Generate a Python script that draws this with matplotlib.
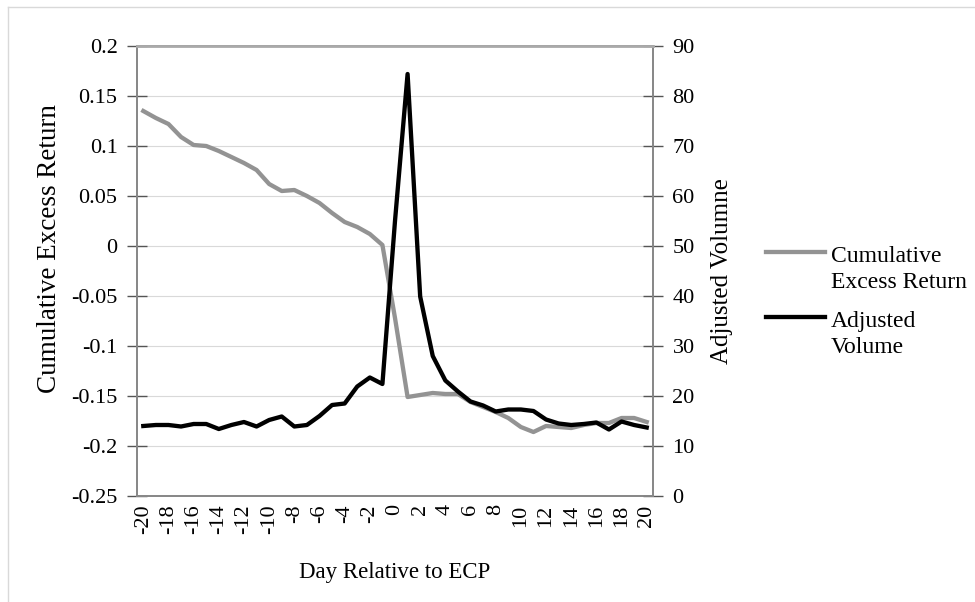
import matplotlib.pyplot as plt
from matplotlib.lines import Line2D

plt.rcParams['font.family'] = ['Liberation Serif', 'DejaVu Serif']

days = list(range(-20, 21))

# cumulative excess return (left axis)
cum_ret = [0.135, 0.128, 0.122, 0.109, 0.101, 0.100, 0.095, 0.089, 0.083, 0.076,
           0.062, 0.055, 0.056, 0.050, 0.043, 0.033, 0.024, 0.019, 0.012, 0.001,
           -0.072, -0.151, -0.149, -0.147, -0.148, -0.148, -0.156, -0.161, -0.166, -0.172,
           -0.181, -0.186, -0.180, -0.181, -0.182, -0.179, -0.177, -0.177, -0.172, -0.172,
           -0.176]

# adjusted volume (right axis)
adj_vol = [14.0, 14.2, 14.2, 13.9, 14.4, 14.4, 13.4, 14.2, 14.8, 13.9,
           15.2, 15.9, 13.9, 14.2, 16.0, 18.2, 18.5, 21.9, 23.7, 22.4,
           55.0, 84.4, 39.9, 28.0, 23.1, 20.9, 18.9, 18.1, 16.9, 17.3,
           17.3, 17.0, 15.3, 14.5, 14.2, 14.4, 14.7, 13.3, 14.9, 14.2,
           13.7]

left_ticks = [0.2, 0.15, 0.1, 0.05, 0, -0.05, -0.1, -0.15, -0.2, -0.25]
right_ticks = [0, 10, 20, 30, 40, 50, 60, 70, 80, 90]
x_ticks = list(range(-20, 21, 2))

W, H = 975, 602
fig = plt.figure(figsize=(W / 100, H / 100), dpi=100)
ax = fig.add_axes([137 / W, 1 - 496 / H, 516 / W, 450 / H])
ax2 = ax.twinx()

grey = '#939393'
ax.plot(days, cum_ret, color=grey, lw=3.1, zorder=3)
ax2.plot(days, adj_vol, color='black', lw=3.1, zorder=3)

ax.set_xlim(-20.5, 20.5)
ax.set_ylim(-0.25, 0.2)
ax2.set_ylim(0, 90)

ax.set_yticks(left_ticks)
ax.set_yticklabels([('%g' % v) for v in left_ticks])
ax2.set_yticks(right_ticks)
ax.set_xticks(x_ticks)
ax.set_xticklabels([str(d) for d in x_ticks], rotation=90)

ax.grid(axis='y', color='#d9d9d9', lw=0.8)
ax.set_axisbelow(True)

for a in (ax, ax2):
    for s in a.spines.values():
        s.set_color('#888888')
        s.set_linewidth(1.3)
ax2.spines['top'].set_color('#aaaaaa')
ax2.spines['top'].set_linewidth(2)

ax.tick_params(axis='y', direction='inout', length=14, width=1, color='#555555',
               labelsize=16, pad=7)
ax2.tick_params(axis='y', direction='inout', length=14, width=1, color='#555555',
                labelsize=16, pad=7)
ax.tick_params(axis='x', length=0, labelsize=16, pad=6)

ax.set_ylabel('Cumulative Excess Return', fontsize=19.5)
ax.yaxis.set_label_coords(-0.145, 0.55)
ax2.set_ylabel('Adjusted Volumne', fontsize=18)
ax2.yaxis.set_label_coords(1.1125, 0.5)
ax.set_xlabel('Day Relative to ECP', fontsize=16.5, labelpad=20)

# legend drawn by hand so the handle sits beside the first text line
leg_items = [(grey, 252, ['Cumulative', 'Excess Return']),
             ('black', 317, ['Adjusted', 'Volume'])]
for col, yy, lines in leg_items:
    fig.add_artist(Line2D([766 / W, 825 / W], [1 - yy / H, 1 - yy / H],
                          transform=fig.transFigure, color=col, lw=3.1))
    for k, txt in enumerate(lines):
        fig.text(831 / W, 1 - (yy + 10.5 + 25.6 * k) / H, txt, fontsize=17,
                 ha='left', va='baseline')

# thin outer frame (top and left visible)
fig.add_artist(Line2D([8 / W, 1.0], [1 - 7 / H, 1 - 7 / H],
                      transform=fig.transFigure, color='#d9d9d9', lw=1))
fig.add_artist(Line2D([8 / W, 8 / W], [0.0, 1 - 7 / H],
                      transform=fig.transFigure, color='#d9d9d9', lw=1))

fig.savefig('out.png', dpi=100)
